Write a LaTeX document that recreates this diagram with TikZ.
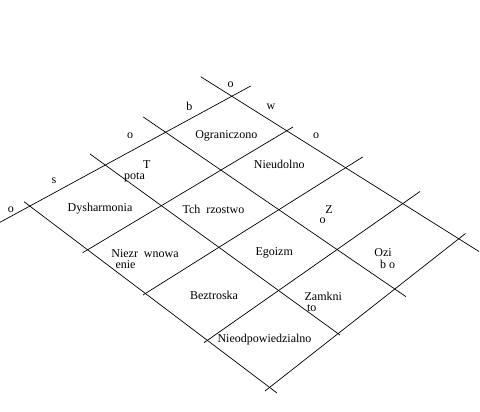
\documentclass[tikz,border=0pt]{standalone}
\usepackage{fontspec}
\setmainfont{Liberation Serif}
\usepackage{xcolor}

\begin{document}
\begin{tikzpicture}[x=1pt,y=-1pt,
  gridline/.style={black, line width=0.7pt},
  lbl/.style={text=black, inner sep=0pt, font=\fontsize{12}{14}\selectfont}]
\useasboundingbox (0,0) rectangle (480,412);
\draw[gridline] (200.7,76.7) -- (479,251.5);
\draw[gridline] (143.3,117) -- (406,296.7);
\draw[gridline] (90,154) -- (340,335);
\draw[gridline] (24,201.7) -- (277,393);
\draw[gridline] (0,222.3) -- (250.7,86);
\draw[gridline] (82.7,252.7) -- (293,127);
\draw[gridline] (143,295) -- (362.7,157);
\draw[gridline] (204,342.7) -- (420,191.5);
\draw[gridline] (265,391) -- (465.5,233.5);
\node[lbl] (top) at (230.7,85) {o};
\node[lbl] (topb) at (189.3,106) {b};
\node[lbl] (topw) at (271,107) {w};
\node[lbl] (lefto) at (130,136) {o};
\node[lbl] (righto) at (316,136) {o};
\node[lbl] (lefts) at (54,181) {s};
\node[lbl] (edgeo) at (11,210) {o};
\node[lbl] (ogr) at (226.3,136) {Ograniczono};
\node[lbl] (nieud) at (279.2,164.3) {Nieudolno};
\node[lbl] (zl) at (329,209.3) {Z};
\node[lbl] (zlb) at (322.5,220.5) {o};
\node[lbl] (ozi) at (383,252.7) {Ozi};
\node[lbl] (ozib) at (387.5,264.3) {b o};
\node[lbl] (tep) at (146.7,164.3) {T};
\node[lbl] (tepb) at (134.5,177) {pota};
\node[lbl] (tch) at (213.5,209) {Tch\ \ rzostwo};
\node[lbl] (ego) at (274.2,253.3) {Egoizm};
\node[lbl] (zam) at (323.3,296) {Zamkni};
\node[lbl] (zamb) at (311.7,308.3) {to};
\node[lbl] (dys) at (100,209) {Dysharmonia};
\node[lbl] (nrw) at (145,253.3) {Niezr\ \ wnowa};
\node[lbl] (nrwb) at (125.5,265) {enie};
\node[lbl] (bez) at (214,295) {Beztroska};
\node[lbl] (nodp) at (264.5,339.3) {Nieodpowiedzialno};
\end{tikzpicture}
\end{document}
